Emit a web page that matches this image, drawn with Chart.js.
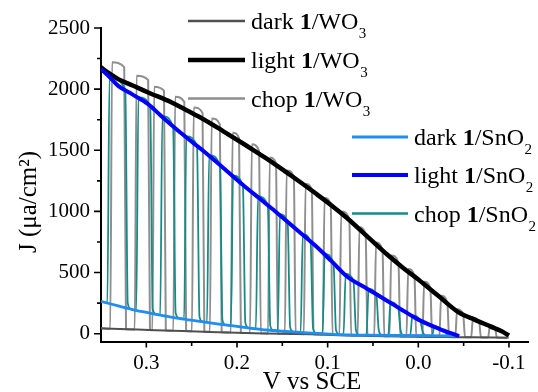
<!DOCTYPE html>
<html>
<head>
<meta charset="utf-8">
<script src="https://cdn.jsdelivr.net/npm/chart.js@4.4.1/dist/chart.umd.min.js"></script>
<style>
  html, body { margin: 0; padding: 0; background: #fff; }
  #pec-chart { display: block; }
</style>
</head>
<body>
<canvas id="pec-chart" width="538" height="392"></canvas>
<script>
/* J–V curves: dark / light / chopped light for 1/WO3 and 1/SnO2 */

// --- Axis ticks ---
const xMajor = [0.3, 0.2, 0.1, 0.0, -0.1];
const xMinor = [0.25, 0.15, 0.05, -0.05];
const yMajor = [0, 500, 1000, 1500, 2000, 2500];
const yMinor = [250, 750, 1250, 1750, 2250];

// --- Series: [V vs SCE, J (µA/cm²)] ---
const darkWO3 = [
    [0.350, 44], [0.320, 36], [0.290, 28], [0.260, 21], [0.230, 14], [0.200, 7],
    [0.170, 2], [0.140, -2], [0.110, -6], [0.080, -14], [0.050, -18], [0.020, -23],
    [0.000, -25], [-0.030, -28], [-0.060, -30], [-0.098, -33]
];

const lightWO3 = [
    [0.350, 2180], [0.345, 2150], [0.340, 2125], [0.331, 2082], [0.315, 2030],
    [0.298, 1973], [0.272, 1891], [0.255, 1825], [0.237, 1754], [0.215, 1655],
    [0.192, 1549], [0.175, 1468], [0.158, 1385], [0.135, 1265], [0.113, 1146],
    [0.095, 1045], [0.079, 948], [0.057, 800], [0.034, 645], [0.017, 540],
    [0.000, 443], [-0.022, 310], [-0.045, 172], [-0.062, 115], [-0.080, 58],
    [-0.092, 20], [-0.100, -15]
];

const chopWO3 = [
    [0.3500, 44],
    [0.3398, 41], [0.3378, 2219], [0.3244, 2180], [0.3224, 37],
    [0.3128, 34], [0.3108, 2109], [0.2980, 2075], [0.2960, 30],
    [0.2933, 29], [0.2913, 2019], [0.2805, 1985], [0.2785, 26],
    [0.2702, 24], [0.2682, 1937], [0.2581, 1895], [0.2561, 21],
    [0.2497, 19], [0.2477, 1850], [0.2380, 1805], [0.2360, 16],
    [0.2299, 15], [0.2279, 1760], [0.2189, 1712], [0.2169, 11],
    [0.2068, 9], [0.2048, 1643], [0.1977, 1600], [0.1957, 6],
    [0.1856, 5], [0.1836, 1549], [0.1757, 1495], [0.1737, 3],
    [0.1658, 2], [0.1638, 1440], [0.1570, 1392], [0.1550, 0],
    [0.1472, -1], [0.1452, 1335], [0.1373, 1285], [0.1353, -3],
    [0.1263, -4], [0.1243, 1225], [0.1175, 1175], [0.1155, -5],
    [0.1054, -7], [0.1034, 1110], [0.0966, 1055], [0.0946, -9],
    [0.0870, -11], [0.0850, 1000], [0.0761, 935], [0.0741, -14],
    [0.0669, -15], [0.0649, 870], [0.0581, 810], [0.0561, -17],
    [0.0486, -18], [0.0466, 745], [0.0395, 685], [0.0375, -20],
    [0.0318, -21], [0.0298, 640], [0.0219, 580], [0.0199, -23],
    [0.0131, -24], [0.0111, 530], [0.0043, 475], [0.0023, -25],
    [-0.0045, -25], [-0.0065, 425], [-0.0133, 370], [-0.0153, -26],
    [-0.0232, -27], [-0.0252, 310], [-0.0320, 255], [-0.0340, -28],
    [-0.0408, -29], [-0.0428, 200], [-0.0495, 160], [-0.0515, -29],
    [-0.0583, -30], [-0.0603, 130], [-0.0671, 100], [-0.0691, -31],
    [-0.0770, -31], [-0.0790, 68], [-0.0847, 45], [-0.0867, -32],
    [-0.1000, -33]
];

const darkSnO2 = [
    [0.350, 264], [0.330, 225], [0.314, 195], [0.295, 167], [0.277, 142],
    [0.259, 120], [0.241, 101], [0.222, 81], [0.204, 63], [0.186, 46],
    [0.167, 30], [0.150, 20], [0.131, 11], [0.110, 2], [0.087, -8],
    [0.055, -12], [0.021, -15], [-0.010, -17], [-0.045, -18]
];

const lightSnO2 = [
    [0.350, 2165], [0.340, 2095], [0.331, 2027], [0.315, 1955], [0.298, 1877],
    [0.285, 1790], [0.272, 1705], [0.255, 1600], [0.237, 1494], [0.215, 1355],
    [0.193, 1214], [0.175, 1105], [0.158, 1002], [0.136, 862], [0.114, 723],
    [0.096, 595], [0.079, 470], [0.057, 370], [0.035, 272], [0.017, 190],
    [0.000, 115], [-0.023, 40], [-0.045, -20]
];

const chopSnO2 = [
    [0.3500, 262],
    [0.3430, 251], [0.3406, 2095], [0.3232, 1990], [0.3205, 250], [0.3170, 200],
    [0.3111, 189], [0.3087, 1932], [0.2957, 1855], [0.2930, 205], [0.2895, 162],
    [0.2847, 151], [0.2823, 1780], [0.2704, 1685], [0.2677, 171], [0.2642, 130],
    [0.2583, 119], [0.2559, 1613], [0.2441, 1529], [0.2414, 140], [0.2379, 98],
    [0.2331, 92], [0.2307, 1461], [0.2188, 1369], [0.2161, 115], [0.2126, 72],
    [0.2067, 64], [0.2043, 1292], [0.1935, 1207], [0.1908, 90], [0.1873, 48],
    [0.1792, 40], [0.1768, 1122], [0.1660, 1043], [0.1633, 66], [0.1598, 26],
    [0.1550, 23], [0.1526, 976], [0.1441, 906], [0.1414, 55], [0.1379, 15],
    [0.1298, 10], [0.1274, 815], [0.1188, 744], [0.1161, 43], [0.1126, 3],
    [0.1056, 0], [0.1032, 652], [0.0935, 566], [0.0908, 32], [0.0873, -8],
    [0.0825, -9], [0.0801, 488], [0.0715, 431], [0.0688, 30], [0.0653, -10],
    [0.0572, -11], [0.0548, 366], [0.0463, 317], [0.0436, 28], [0.0401, -12],
    [0.0331, -14], [0.0307, 257], [0.0221, 209], [0.0194, 25], [0.0159, -15],
    [0.0089, -15], [0.0065, 150], [-0.0021, 105], [-0.0048, 20], [-0.0083, -16],
    [-0.0153, -16], [-0.0177, 62], [-0.0274, 25], [-0.0301, 10], [-0.0336, -17],
    [-0.0451, -18]
];

// --- Styling ---
const SERIF = '"Liberation Serif", "Times New Roman", serif';
const COLORS = {
    darkWO3: '#505050',
    lightWO3: '#000000',
    chopWO3: '#8f8f8f',
    darkSnO2: '#1f8ef1',
    lightSnO2: '#0000ff',
    chopSnO2: '#168c8a',
};

const toXY = pts => pts.map(([x, y]) => ({ x, y }));

function series(label, pts, color, width, order, group) {
    return {
        label,
        data: toXY(pts),
        borderColor: color,
        backgroundColor: color,
        borderWidth: width,
        pointRadius: 0,
        cubicInterpolationMode: 'monotone',
        fill: false,
        order,
        group,
    };
}

const datasets = [
    series('dark', darkWO3, COLORS.darkWO3, 2, 4, 'WO'),
    series('light', lightWO3, COLORS.lightWO3, 4.5, 2, 'WO'),
    series('chop', chopWO3, COLORS.chopWO3, 2, 6, 'WO'),
    series('dark', darkSnO2, COLORS.darkSnO2, 2.8, 3, 'SnO'),
    series('light', lightSnO2, COLORS.lightSnO2, 4, 1, 'SnO'),
    series('chop', chopSnO2, COLORS.chopSnO2, 1.8, 5, 'SnO'),
];

// legend rows: sample line start/end and row height
const LEGEND_ROWS = [
    { ds: 0, x1: 188, x2: 245, y: 21, sub: '3' },
    { ds: 1, x1: 188, x2: 245, y: 60, sub: '3' },
    { ds: 2, x1: 188, x2: 245, y: 98.5, sub: '3' },
    { ds: 3, x1: 352, x2: 408, y: 137, sub: '2' },
    { ds: 4, x1: 352, x2: 408, y: 175, sub: '2' },
    { ds: 5, x1: 352, x2: 408, y: 213.5, sub: '2' },
];

// --- Ticks (major/minor), axis titles and the two-block legend ---
const decorPlugin = {
    id: 'decor',
    afterDraw(chart) {
        const { ctx, chartArea: area, scales: { x, y } } = chart;
        ctx.save();

        // tick marks, outward
        ctx.strokeStyle = '#000';
        ctx.lineWidth = 1.6;
        ctx.beginPath();
        yMajor.concat(yMinor).forEach(v => {
            const py = y.getPixelForValue(v);
            const len = yMajor.includes(v) ? 7 : 4;
            ctx.moveTo(area.left - len, py);
            ctx.lineTo(area.left, py);
        });
        xMajor.concat(xMinor).forEach(v => {
            const px = x.getPixelForValue(v);
            const len = xMajor.includes(v) ? 5.5 : 4;
            ctx.moveTo(px, area.bottom);
            ctx.lineTo(px, area.bottom + len);
        });
        ctx.stroke();

        // axis titles
        ctx.fillStyle = '#000';
        ctx.font = '25px ' + SERIF;
        ctx.textAlign = 'center';
        ctx.textBaseline = 'alphabetic';
        ctx.fillText('V vs SCE', 312, 389);

        ctx.save();
        ctx.translate(36, 202);
        ctx.rotate(-Math.PI / 2);
        ctx.fillText('J (\u03bca/cm\u00b2)', 0, 0);
        ctx.restore();

        // legend
        ctx.textAlign = 'left';
        LEGEND_ROWS.forEach(row => {
            const ds = chart.data.datasets[row.ds];
            ctx.strokeStyle = ds.borderColor;
            ctx.lineWidth = Math.max(ds.borderWidth, 2.5);
            ctx.beginPath();
            ctx.moveTo(row.x1, row.y);
            ctx.lineTo(row.x2, row.y);
            ctx.stroke();

            let tx = row.x2 + 6;
            const base = row.y + 8;
            const pieces = [
                { text: ds.label + ' ', font: '24px ' + SERIF },
                { text: '1', font: 'bold 24px ' + SERIF },
                { text: '/' + ds.group, font: '24px ' + SERIF },
            ];
            pieces.forEach(p => {
                ctx.font = p.font;
                ctx.fillText(p.text, tx, base);
                tx += ctx.measureText(p.text).width;
            });
            ctx.font = '15px ' + SERIF;
            ctx.fillText(row.sub, tx + 0.5, base + 9);
        });

        ctx.restore();
    }
};

const tickFont = { family: SERIF, size: 21 };

new Chart(document.getElementById('pec-chart'), {
    type: 'line',
    data: { datasets },
    options: {
        responsive: false,
        devicePixelRatio: 1,
        animation: false,
        events: [],
        layout: { padding: { left: 0, top: 28, right: 10, bottom: 0 } },
        plugins: {
            legend: { display: false },
            tooltip: { enabled: false },
        },
        scales: {
            x: {
                type: 'linear',
                reverse: true,
                min: -0.121,
                max: 0.35,
                afterFit: s => { s.height = 50; },
                afterBuildTicks: s => {
                    s.ticks = xMajor.concat(xMinor).sort((a, b) => b - a).map(value => ({ value }));
                },
                grid: { display: false, drawTicks: true, tickLength: 5 },
                border: { display: true, color: '#000', width: 2 },
                ticks: {
                    autoSkip: false,
                    maxRotation: 0,
                    padding: 4,
                    color: '#000',
                    font: tickFont,
                    callback: v => xMajor.includes(v) ? v.toFixed(1) : '',
                },
            },
            y: {
                min: -68,
                max: 2500,
                afterFit: s => { s.width = 101; },
                afterBuildTicks: s => {
                    s.ticks = yMajor.concat(yMinor).sort((a, b) => a - b).map(value => ({ value }));
                },
                grid: { display: false, drawTicks: true, tickLength: 7 },
                border: { display: true, color: '#000', width: 2 },
                ticks: {
                    autoSkip: false,
                    padding: 4,
                    color: '#000',
                    font: tickFont,
                    callback: v => yMajor.includes(v) ? String(v) : '',
                },
            },
        },
    },
    plugins: [decorPlugin],
});
</script>
</body>
</html>
